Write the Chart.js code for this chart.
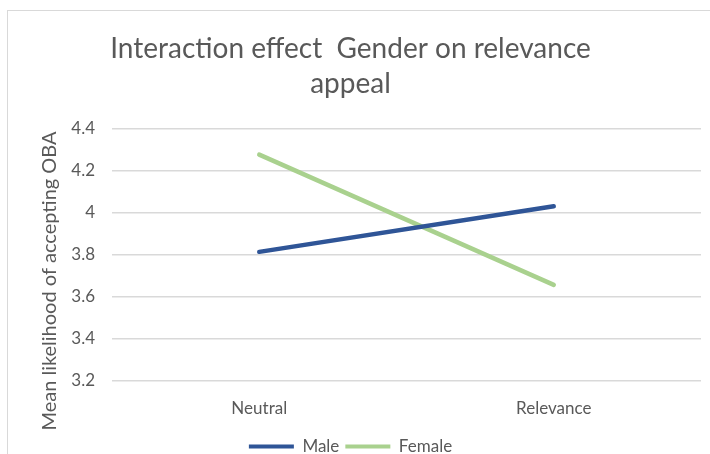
<!DOCTYPE html>
<html>
<head>
<meta charset="utf-8">
<script src="https://cdn.jsdelivr.net/npm/chart.js@4"></script>
<style>
body{margin:0;background:#fff;}
#wrap{position:relative;width:710px;height:454px;overflow:hidden;}
#frame{position:absolute;left:7px;top:10px;width:720px;height:470px;border:1px solid #d9d9d9;}
#chart{position:absolute;left:0;top:0;}
</style>
</head>
<body>
<div id="wrap">
<div id="frame"></div>
<canvas id="chart" width="710" height="465"></canvas>
</div>
<script>
const categories=["Neutral","Relevance"];
const maleValues=[3.815,4.032];
const femaleValues=[4.278,3.658];
const yTicks=[3.2,3.4,3.6,3.8,4,4.2,4.4];

const ctx=document.getElementById("chart");
const grey="#595959";
const fontFamily="Lato, 'Open Sans', sans-serif";

// rotated y axis title, centred on the axis plus label band
const yTitle={
id:"yTitle",
afterDraw(chart){
const c=chart.ctx;
c.save();
c.translate(50,281);
c.rotate(-Math.PI/2);
c.font="20px "+fontFamily;
c.fillStyle=grey;
c.textAlign="center";
c.textBaseline="middle";
c.fillText("Mean likelihood of accepting OBA",0,0);
c.restore();
}
};

new Chart(ctx,{
type:"line",
data:{
labels:categories,
datasets:[
{label:"Male",data:maleValues,borderColor:"#2f5597",backgroundColor:"#2f5597",borderWidth:4.5,borderCapStyle:"round",pointRadius:0,fill:false},
{label:"Female",data:femaleValues,borderColor:"#a9d18e",backgroundColor:"#a9d18e",borderWidth:4.5,borderCapStyle:"round",pointRadius:0,fill:false}
]
},
options:{
responsive:false,
animation:false,
layout:{padding:{top:0,right:9,bottom:0,left:0}},
plugins:{
title:{
display:true,
text:["Interaction effect  Gender on relevance","appeal"],
color:grey,
font:{family:fontFamily,size:28,weight:"normal",lineHeight:1.25},
padding:{top:31,bottom:28}
},
legend:{
position:"bottom",
labels:{
color:grey,
font:{family:fontFamily,size:17},
boxWidth:45,
boxHeight:4,
padding:6,
generateLabels(chart){
return chart.data.datasets.map((d,i)=>({
text:d.label,
fillStyle:d.borderColor,
strokeStyle:d.borderColor,
lineWidth:0,
datasetIndex:i,
fontColor:grey
}));
}
}
},
tooltip:{enabled:false}
},
scales:{
x:{
offset:true,
grid:{display:false},
border:{display:false},
ticks:{color:grey,font:{family:fontFamily,size:17},padding:9},
afterFit(s){s.height=51;}
},
y:{
min:3.2,
max:4.4,
afterBuildTicks(s){s.ticks=yTicks.map(v=>({value:v}));},
grid:{color:"#d9d9d9",lineWidth:1.5,drawTicks:false},
border:{display:false},
ticks:{color:grey,font:{family:fontFamily,size:17},padding:17,callback:v=>String(Math.round(v*10)/10)},
afterFit(s){s.width=112;}
}
}
},
plugins:[yTitle]
});
</script>
</body>
</html>
